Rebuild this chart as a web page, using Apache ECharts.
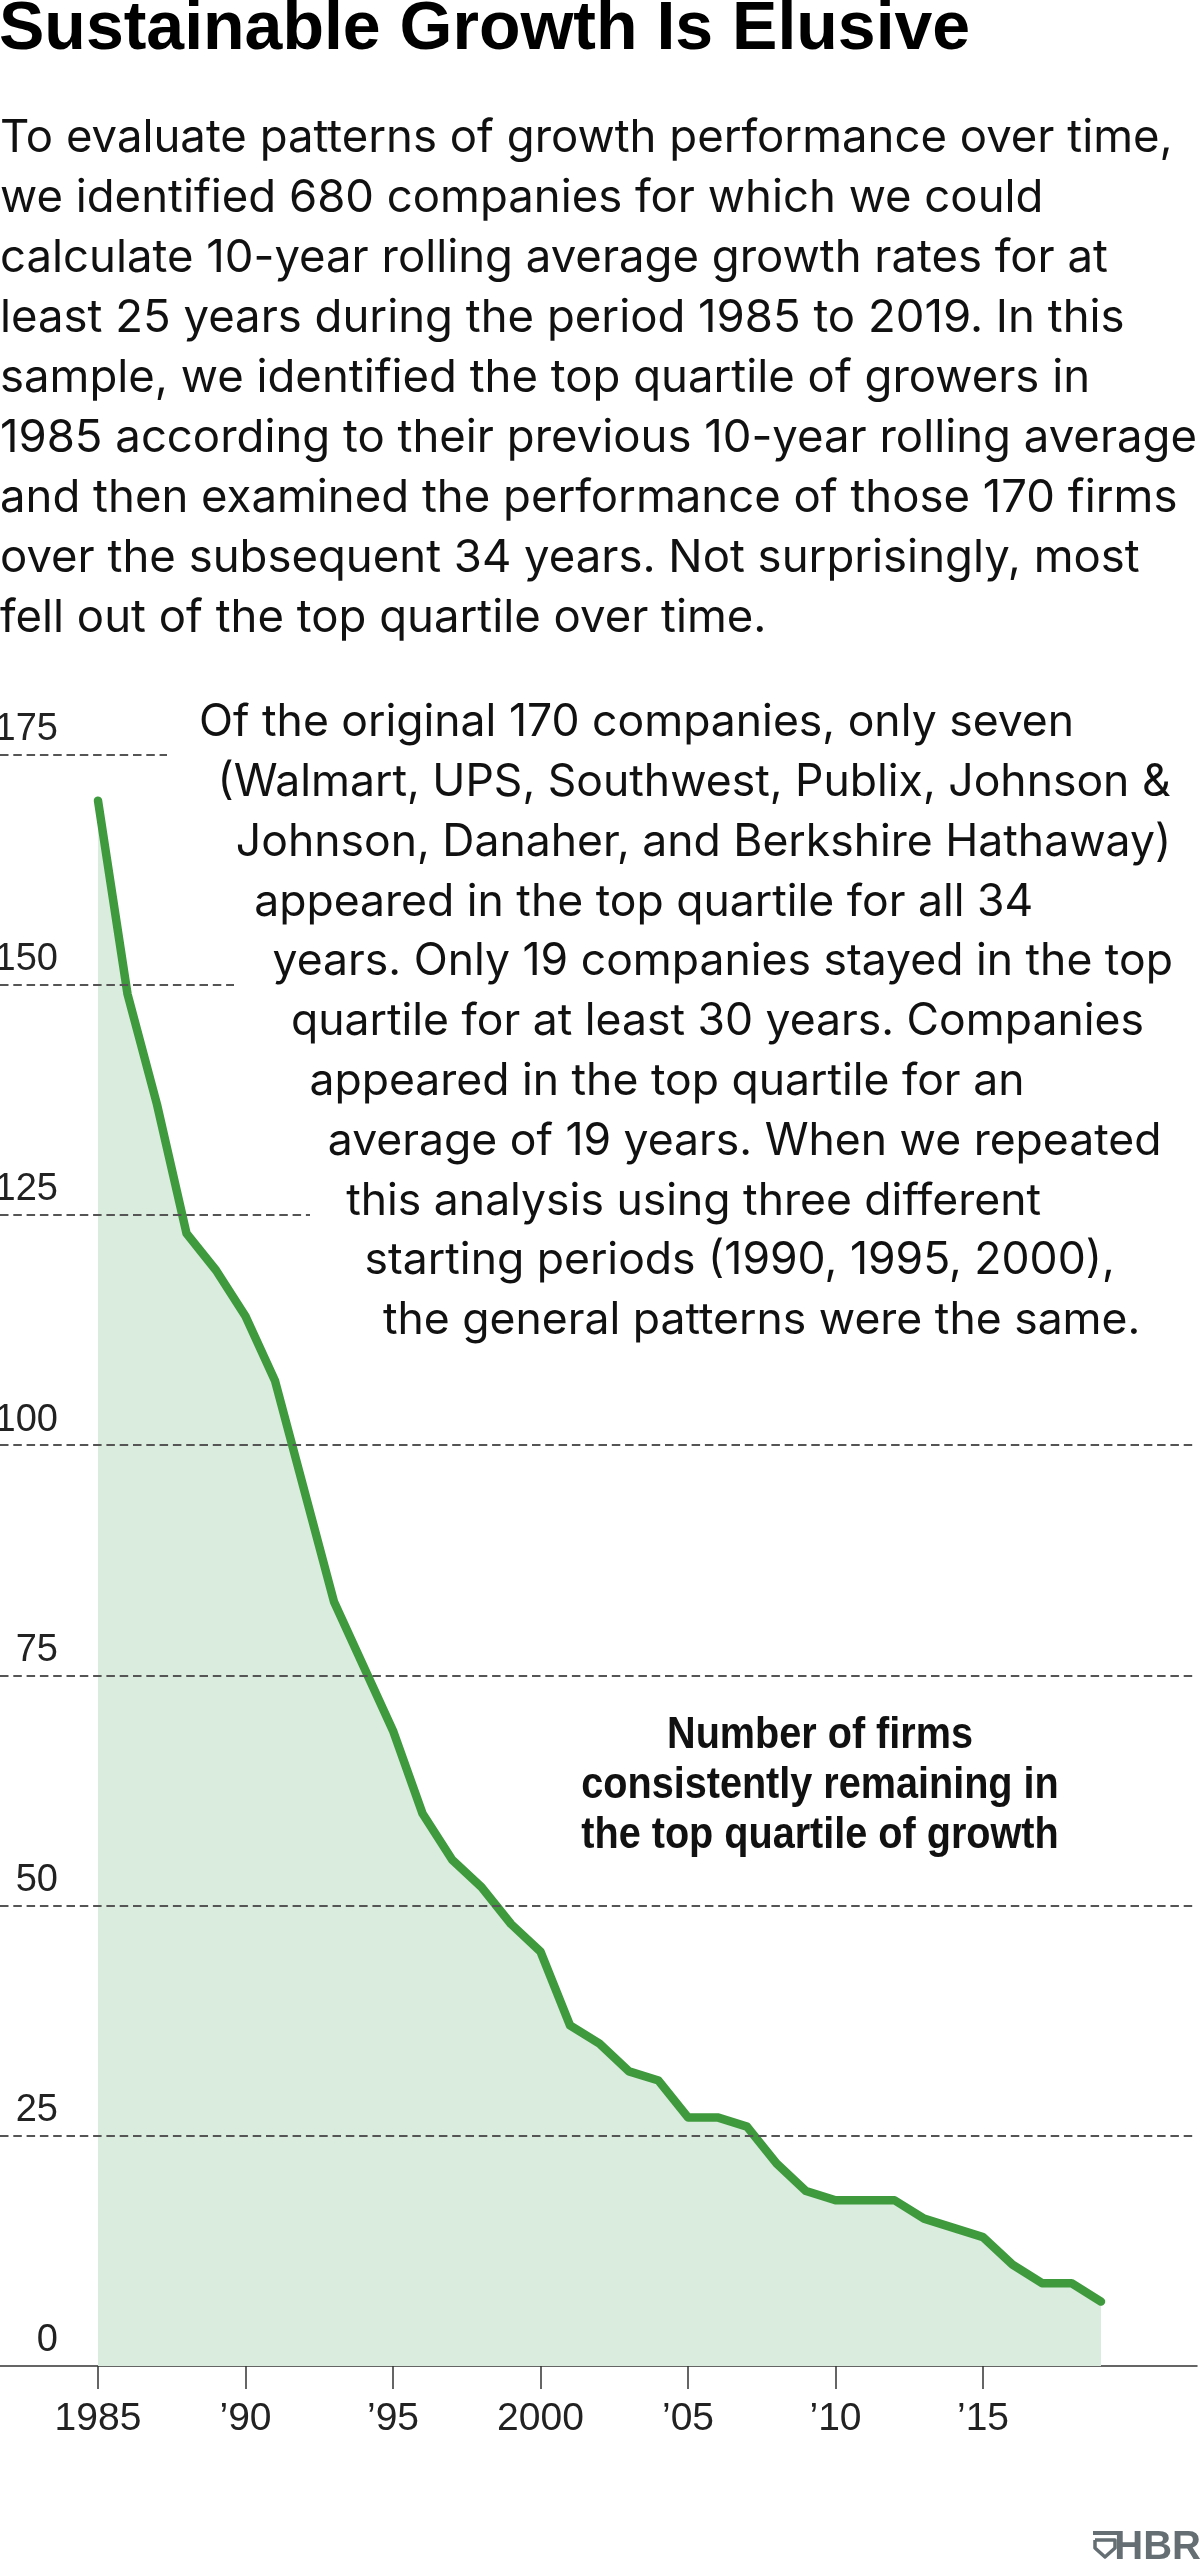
<!DOCTYPE html>
<html>
<head>
<meta charset="utf-8">
<script src="https://cdn.jsdelivr.net/npm/echarts@6/dist/echarts.min.js"></script>
<style>
  html, body { margin: 0; padding: 0; background: #ffffff; }
  #chart { width: 1200px; height: 2560px; }
</style>
</head>
<body>
<div id="chart"></div>
<script>
// ---------- DATA ----------
const years = [1985, 1986, 1987, 1988, 1989, 1990, 1991, 1992, 1993, 1994,
               1995, 1996, 1997, 1998, 1999, 2000, 2001, 2002, 2003, 2004,
               2005, 2006, 2007, 2008, 2009, 2010, 2011, 2012, 2013, 2014,
               2015, 2016, 2017, 2018, 2019];
const firms = [170, 149, 137, 123, 119, 114, 107, 95, 83, 76,
               69, 60, 55, 52, 48, 45, 37, 35, 32, 31,
               27, 27, 26, 22, 19, 18, 18, 18, 16, 15,
               14, 11, 9, 9, 7];
const xTickYears = [1985, 1990, 1995, 2000, 2005, 2010, 2015];
const xTickLabels = ['1985', '\u201990', '\u201995', '2000', '\u201905', '\u201910', '\u201915'];
const yTicks = [0, 25, 50, 75, 100, 125, 150, 175];

const titleText = 'Sustainable Growth Is Elusive';
const introLines = [
  'To evaluate patterns of growth performance over time,',
  'we identified 680 companies for which we could',
  'calculate 10-year rolling average growth rates for at',
  'least 25 years during the period 1985 to 2019. In this',
  'sample, we identified the top quartile of growers in',
  '1985 according to their previous 10-year rolling average',
  'and then examined the performance of those 170 firms',
  'over the subsequent 34 years. Not surprisingly, most',
  'fell out of the top quartile over time.'
];
const noteLines = [
  'Of the original 170 companies, only seven',
  '(Walmart, UPS, Southwest, Publix, Johnson &',
  'Johnson, Danaher, and Berkshire Hathaway)',
  'appeared in the top quartile for all 34',
  'years. Only 19 companies stayed in the top',
  'quartile for at least 30 years. Companies',
  'appeared in the top quartile for an',
  'average of 19 years. When we repeated',
  'this analysis using three different',
  'starting periods (1990, 1995, 2000),',
  'the general patterns were the same.'
];
const seriesLabelLines = ['Number of firms', 'consistently remaining in', 'the top quartile of growth'];

// ---------- LAYOUT ----------
const W = 1200, H = 2560;
const gridLeft = 0, gridRight = 3;
const gridTop = 754.6, gridBottomY = 2366;
const pxPerYear = 29.5;
const firstTickX = 98;
const xMin = 1985 - (firstTickX - gridLeft) / pxPerYear;
const xMax = xMin + (W - gridLeft - gridRight) / pxPerYear;

// short grid lines (upper three stop before the note text), in year units
const gridStops = {175: xMin + 167 / pxPerYear, 150: xMin + 234 / pxPerYear, 125: xMin + 310 / pxPerYear};

const pts = years.map((y, i) => [y, firms[i]]);

const gridMarks = yTicks.filter(v => v > 0).map(v => [
  { coord: [xMin, v] },
  { coord: [gridStops[v] !== undefined ? gridStops[v] : xMax, v] }
]);

const bodyFont = 'Inter, "Liberation Sans", sans-serif';
const condFont = '"Liberation Sans Narrow", "Liberation Sans", sans-serif';

const graphics = [];
// title
graphics.push({
  type: 'text', x: -1, y: 54 - 0.3465 * 68,
  style: { text: titleText, fontFamily: '"Liberation Sans", Arial, sans-serif', fontWeight: 'bold',
           fontSize: 68, fill: '#000', textVerticalAlign: 'middle', textAlign: 'left' }
});
// intro paragraph
const introSize = 45.5;
introLines.forEach((t, i) => {
  graphics.push({
    type: 'text', x: 0, y: 155 + 60 * i - 0.363 * introSize,
    style: { text: t, fontFamily: bodyFont, fontSize: introSize, fill: '#111',
             textVerticalAlign: 'middle', textAlign: 'left' }
  });
});
// note paragraph, staggered along the slope
const noteSize = 44.5;
noteLines.forEach((t, i) => {
  graphics.push({
    type: 'text', x: 199 + 18.4 * i, y: 739 + 59.8 * i - 0.363 * noteSize,
    style: { text: t, fontFamily: bodyFont, fontSize: noteSize, fill: '#111',
             textVerticalAlign: 'middle', textAlign: 'left' }
  });
});
// series label
seriesLabelLines.forEach((t, i) => {
  graphics.push({
    type: 'text', x: 820, y: 1751 + 50 * i - 0.3465 * 44, scaleX: 0.9,
    style: { text: t, fontFamily: '"Liberation Sans", Arial, sans-serif', fontWeight: 'bold', fontSize: 44,
             fill: '#111', textVerticalAlign: 'middle', textAlign: 'center' }
  });
});
// HBR logo
graphics.push({
  type: 'rect', shape: { x: 1093, y: 2531, width: 24, height: 4 }, style: { fill: '#646e73' }
});
graphics.push({
  type: 'polyline',
  shape: { points: [[1095, 2540], [1115, 2540], [1115, 2548], [1105, 2557], [1095, 2548], [1095, 2540]] },
  style: { stroke: '#646e73', lineWidth: 3.5, fill: null, lineJoin: 'round' }
});
graphics.push({
  type: 'text', x: 1201, y: 2562 - 0.3465 * 40,
  style: { text: 'HBR', fontFamily: '"Liberation Sans", Arial, sans-serif', fontWeight: 'bold', fontSize: 40,
           fill: '#646e73', textVerticalAlign: 'middle', textAlign: 'right' }
});

const chart = echarts.init(document.getElementById('chart'), null, { renderer: 'canvas', width: W, height: H });

chart.setOption({
  animation: false,
  backgroundColor: '#ffffff',
  grid: {
    left: gridLeft, right: gridRight, top: gridTop, bottom: H - gridBottomY,
    containLabel: false, outerBoundsMode: 'none'
  },
  xAxis: {
    type: 'value', min: xMin, max: xMax,
    axisLine: { show: true, onZero: true, lineStyle: { color: '#333', width: 1.5 } },
    axisTick: { show: true, customValues: xTickYears, length: 23, lineStyle: { color: '#333', width: 1.5 } },
    axisLabel: {
      show: true, customValues: xTickYears,
      formatter: v => xTickLabels[xTickYears.indexOf(Math.round(v))] || '',
      fontFamily: condFont, fontSize: 39, color: '#222', margin: 34
    },
    splitLine: { show: false }
  },
  yAxis: {
    type: 'value', min: 0, max: 175, interval: 25,
    axisLine: { show: false }, axisTick: { show: false }, splitLine: { show: false },
    axisLabel: {
      show: true, inside: true, margin: 58, align: 'right', verticalAlign: 'bottom',
      padding: [0, 0, 6, 0],
      fontFamily: condFont, fontSize: 38, color: '#222'
    }
  },
  series: [
    {
      name: 'area', type: 'line', data: pts, z: 1,
      symbol: 'none', lineStyle: { width: 0, opacity: 0 },
      areaStyle: { color: '#d9ecdd', opacity: 1 },
      silent: true
    },
    {
      name: 'grid', type: 'line', data: pts, z: 2,
      symbol: 'none', lineStyle: { width: 0, opacity: 0 },
      silent: true,
      markLine: {
        silent: true, symbol: ['none', 'none'], animation: false,
        label: { show: false },
        lineStyle: { type: [8.5, 4.8], color: '#555', width: 2 },
        data: gridMarks
      }
    },
    {
      name: 'firms', type: 'line', data: pts, z: 3,
      symbol: 'none',
      lineStyle: { color: '#3f9a3e', width: 8.5, cap: 'round', join: 'round' },
      silent: true
    }
  ],
  graphic: { elements: graphics }
});
</script>
</body>
</html>
